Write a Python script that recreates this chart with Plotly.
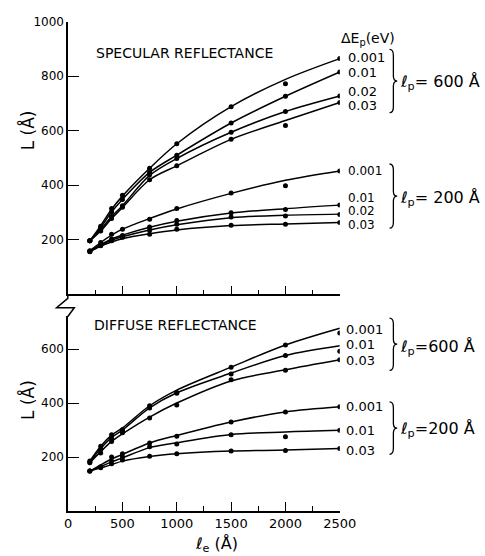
import plotly.graph_objects as go

# ---------------- data ----------------
le = [200, 300, 400, 500, 750, 1000, 1500, 2000, 2500]
x_tickvals = [0, 500, 1000, 1500, 2000, 2500]
y_top_ticks = [200, 400, 600, 800, 1000]
y_bot_ticks = [200, 400, 600]

# Specular reflectance, lp = 600 A  (fitted curves / measured points)
spec600_001_fit = [196, 252, 312, 360, 462, 552, 688, 788, 864]
spec600_001_pts = [196, 250, 315, 363, 462, 552, 688, 772, 864]
spec600_01_fit = [196, 245, 302, 348, 447, 510, 628, 726, 815]
spec600_01_pts = [196, 245, 302, 348, 447, 510, 628, 726, 815]
spec600_02_fit = [196, 238, 285, 325, 436, 498, 594, 670, 727]
spec600_02_pts = [196, 238, 285, 325, 438, 498, 594, 670, 727]
spec600_03_fit = [196, 232, 278, 318, 420, 471, 568, 637, 703]
spec600_03_pts = [196, 232, 278, 319, 420, 471, 568, 619, 703]

# Specular reflectance, lp = 200 A
spec200_001_fit = [160, 190, 217, 239, 278, 313, 370, 418, 452]
spec200_001_pts = [160, 190, 220, 239, 275, 315, 371, 398, 452]
spec200_01_fit = [158, 182, 203, 217, 246, 268, 298, 314, 327]
spec200_01_pts = [158, 182, 203, 216, 247, 271, 299, 311, 327]
spec200_02_fit = [158, 180, 198, 211, 236, 255, 281, 290, 294]
spec200_02_pts = [158, 180, 197, 211, 235, 257, 283, 287, 293]
spec200_03_fit = [156, 177, 192, 204, 222, 236, 252, 258, 263]
spec200_03_pts = [156, 178, 196, 209, 220, 239, 253, 257, 263]

# Diffuse reflectance, lp = 600 A
diff600_001_fit = [185, 240, 281, 308, 390, 448, 533, 615, 677]
diff600_001_pts = [185, 240, 283, 301, 390, 439, 533, 615, 659]
diff600_01_fit = [182, 232, 272, 300, 382, 438, 511, 576, 612]
diff600_01_pts = [182, 228, 270, 298, 382, 436, 508, 576, 592]
diff600_03_fit = [179, 220, 258, 286, 348, 400, 482, 523, 560]
diff600_03_pts = [179, 215, 258, 290, 345, 393, 486, 521, 560]

# Diffuse reflectance, lp = 200 A
diff200_001_fit = [148, 171, 193, 210, 252, 280, 330, 367, 386]
diff200_001_pts = [148, 163, 200, 212, 252, 277, 330, 367, 386]
diff200_01_fit = [148, 165, 182, 197, 235, 253, 284, 293, 299]
diff200_01_pts = [148, 163, 185, 200, 238, 248, 283, 275, 299]
diff200_03_fit = [148, 160, 172, 185, 202, 212, 222, 226, 232]
diff200_03_pts = [148, 160, 175, 189, 203, 212, 222, 224, 232]

dEp_labels_spec = ["0.001", "0.01", "0.02", "0.03"]
dEp_labels_diff = ["0.001", "0.01", "0.03"]

# ---------------- layout helpers ----------------
W, H = 485, 556
FONT = "DejaVu Sans"


def px(x):
    return x / W


def py(y):
    return 1 - y / H


fig = go.Figure()

spec_fits = [spec600_001_fit, spec600_01_fit, spec600_02_fit, spec600_03_fit,
             spec200_001_fit, spec200_01_fit, spec200_02_fit, spec200_03_fit]
spec_pts = [spec600_001_pts, spec600_01_pts, spec600_02_pts, spec600_03_pts,
            spec200_001_pts, spec200_01_pts, spec200_02_pts, spec200_03_pts]
diff_fits = [diff600_001_fit, diff600_01_fit, diff600_03_fit,
             diff200_001_fit, diff200_01_fit, diff200_03_fit]
diff_pts = [diff600_001_pts, diff600_01_pts, diff600_03_pts,
            diff200_001_pts, diff200_01_pts, diff200_03_pts]

for fits, pts, xa, ya in [(spec_fits, spec_pts, "x", "y"), (diff_fits, diff_pts, "x2", "y2")]:
    for f, p in zip(fits, pts):
        fig.add_trace(go.Scatter(x=le, y=f, mode="lines", xaxis=xa, yaxis=ya,
                                 line=dict(color="black", width=1.5, shape="spline", smoothing=0.9),
                                 showlegend=False, hoverinfo="skip"))
        fig.add_trace(go.Scatter(x=le, y=p, mode="markers", xaxis=xa, yaxis=ya,
                                 marker=dict(color="black", size=5),
                                 showlegend=False))

xdom = [px(67), px(351)]
axis_common = dict(showline=True, linecolor="black", linewidth=1.5, showgrid=False,
                   zeroline=False, ticks="inside", tickcolor="black", tickwidth=1.3)

fig.update_layout(
    width=W, height=H, autosize=False,
    margin=dict(l=0, r=0, t=0, b=0),
    paper_bgcolor="white", plot_bgcolor="white",
    font=dict(family=FONT, color="black"),
    xaxis=dict(domain=xdom, range=[0, 2500], anchor="y", tickvals=x_tickvals,
               showticklabels=False, ticklen=9,
               minor=dict(ticks="inside", ticklen=5, dtick=250, tick0=0, tickcolor="black", tickwidth=1.2),
               **axis_common),
    yaxis=dict(domain=[py(291), py(14.7)], range=[0, 1000], anchor="x",
               tickvals=y_top_ticks, ticklen=11, tickfont=dict(size=12), **axis_common),
    xaxis2=dict(domain=xdom, range=[0, 2500], anchor="y2", tickvals=x_tickvals,
                ticklen=9, tickfont=dict(size=13),
                minor=dict(ticks="inside", ticklen=5, dtick=250, tick0=0, tickcolor="black", tickwidth=1.2),
                **axis_common),
    yaxis2=dict(domain=[py(510.5), py(313)], range=[0, (510.5 - 313) / 0.2735], anchor="x2",
                tickvals=y_bot_ticks, ticklen=11, tickfont=dict(size=12), **axis_common),
)

ann = []


def add_text(text, x, y, size, xanchor="left", yanchor="middle", angle=0):
    ann.append(dict(text=text, x=px(x), y=py(y), xref="paper", yref="paper",
                    xanchor=xanchor, yanchor=yanchor, showarrow=False, textangle=angle,
                    font=dict(size=size, family=FONT, color="black")))


add_text("SPECULAR REFLECTANCE", 94, 47, 14)
add_text("DIFFUSE REFLECTANCE", 92, 322, 14)
add_text("ΔE<sub>p</sub>(eV)", 350, 32, 14)

for lab, yy in zip(dEp_labels_spec, [51, 66, 86, 100]):
    add_text(lab, 357, yy, 13)
for lab, yy in zip(dEp_labels_spec, [166, 193, 207, 221]):
    add_text(lab, 357, yy, 12)
for lab, yy in zip(dEp_labels_diff, [327, 342, 358]):
    add_text(lab, 355, yy, 13)
for lab, yy in zip(dEp_labels_diff, [405, 429, 449]):
    add_text(lab, 355, yy, 13)

add_text("<i>ℓ</i><sub>p</sub>= 600 Å", 412, 76, 16)
add_text("<i>ℓ</i><sub>p</sub>= 200 Å", 412, 194, 16)
add_text("<i>ℓ</i><sub>p</sub>=600 Å", 412, 345, 16)
add_text("<i>ℓ</i><sub>p</sub>=200 Å", 412, 428, 16)

add_text("L (Å)", 25, 125, 17, xanchor="center", angle=-90)
add_text("L (Å)", 25, 398, 17, xanchor="center", angle=-90)
add_text("<i>ℓ</i><sub>e</sub> (Å)", 222, 544, 16, xanchor="center")

fig.update_layout(annotations=ann)


def brace_path(x, y0, y1):
    ym = (y0 + y1) / 2
    pts = [
        f"M {px(x)},{py(y0)}",
        f"Q {px(x + 4)},{py(y0)} {px(x + 4)},{py(y0 + 6)}",
        f"L {px(x + 4)},{py(ym - 5)}",
        f"Q {px(x + 4)},{py(ym)} {px(x + 8)},{py(ym)}",
        f"Q {px(x + 4)},{py(ym)} {px(x + 4)},{py(ym + 5)}",
        f"L {px(x + 4)},{py(y1 - 6)}",
        f"Q {px(x + 4)},{py(y1)} {px(x)},{py(y1)}",
    ]
    return " ".join(pts)


shapes = []
for (y0, y1) in [(43, 107), (159, 224), (315, 368), (400, 453)]:
    shapes.append(dict(type="path", path=brace_path(403, y0, y1), xref="paper", yref="paper",
                       line=dict(color="black", width=1.3)))

# axis break zigzag between the two panels
zig = [(66.7, 291), (66.7, 295), (55, 304.5), (73.5, 304.5), (66.7, 313.5)]
zpath = "M " + " L ".join(f"{px(a)},{py(b)}" for a, b in zig)
shapes.append(dict(type="path", path=zpath, xref="paper", yref="paper",
                   line=dict(color="black", width=1.5)))

fig.update_layout(shapes=shapes)

fig.write_html("out.html")
